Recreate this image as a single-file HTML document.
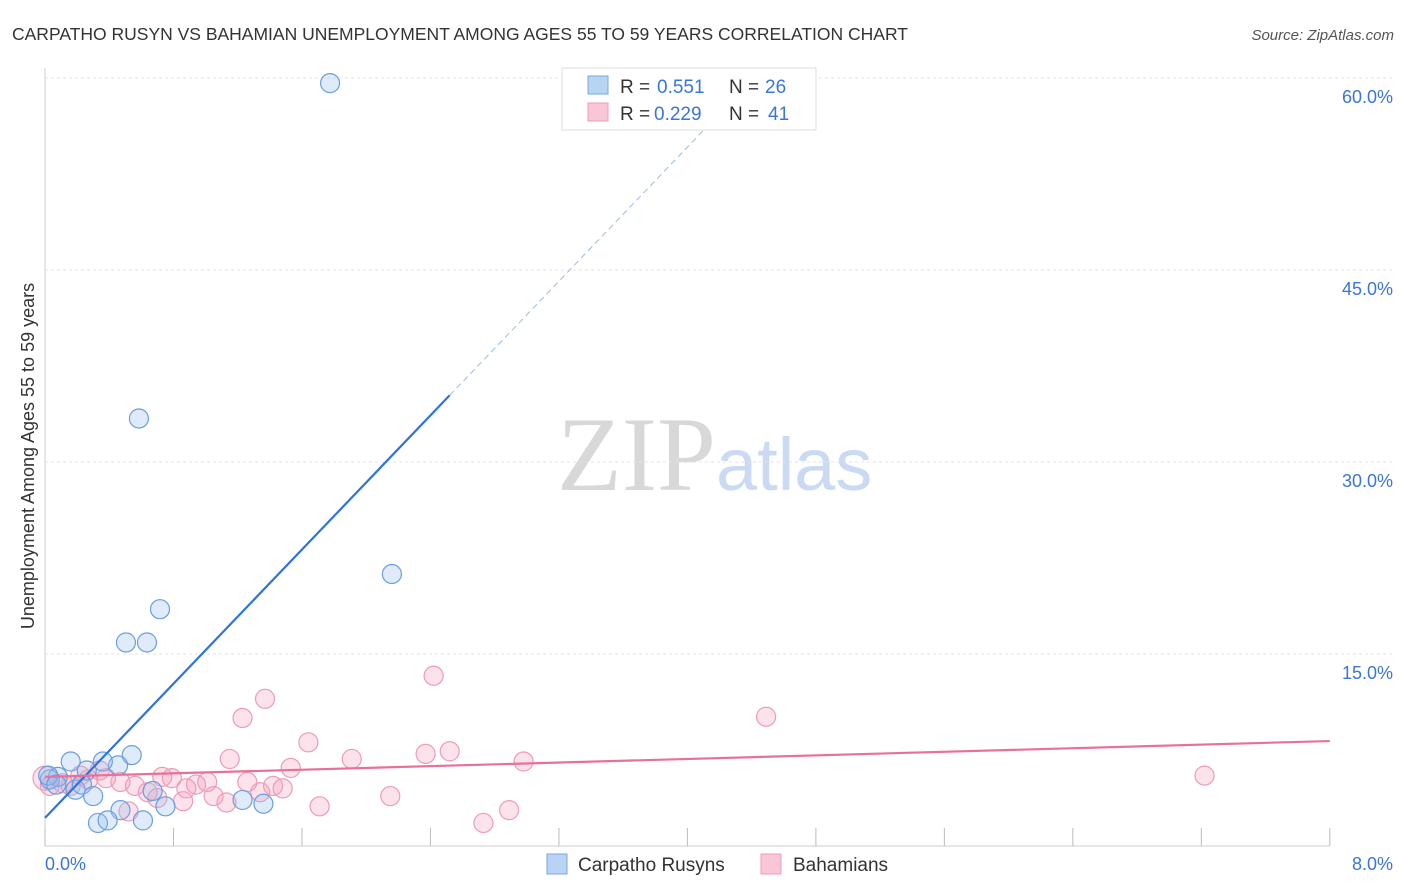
<!DOCTYPE html>
<html><head><meta charset="utf-8"><style>
body{margin:0;background:#fff;font-family:"Liberation Sans",sans-serif}
svg{display:block}
</style></head><body>
<svg id="c" width="1406" height="892">
<text x="12" y="40" font-size="17.5" fill="#333">CARPATHO RUSYN VS BAHAMIAN UNEMPLOYMENT AMONG AGES 55 TO 59 YEARS CORRELATION CHART</text>
<text x="1394" y="40" font-size="15" fill="#555" font-style="italic" text-anchor="end">Source: ZipAtlas.com</text>
<text x="716" y="490" font-size="106" fill="#d8d8d8" font-family="Liberation Serif,serif" text-anchor="end">ZIP</text>
<text x="716" y="490" font-size="74" fill="#c9daf2">atlas</text>
<text transform="translate(34,456) rotate(-90)" font-size="18" fill="#333" text-anchor="middle">Unemployment Among Ages 55 to 59 years</text>
<g id="grid"></g><g id="pts"></g><g id="lines"></g>
<g>
<rect x="562" y="68" width="254" height="62" fill="#fff" stroke="#ddd"/>
<rect x="588" y="76" width="20" height="18" fill="#b8d4f5" stroke="#7aa8e0"/>
<text x="620" y="93" font-size="19" fill="#333">R =</text>
<text x="657" y="93" font-size="19" fill="#3a76d6">0.551</text>
<text x="729" y="93" font-size="19" fill="#333">N =</text>
<text x="765" y="93" font-size="19" fill="#3a76d6">26</text>
<rect x="588" y="103" width="20" height="18" fill="#f9c6d6" stroke="#ee9bb6"/>
<text x="620" y="120" font-size="19" fill="#333">R =</text>
<text x="654" y="120" font-size="19" fill="#3a76d6">0.229</text>
<text x="729" y="120" font-size="19" fill="#333">N =</text>
<text x="768" y="120" font-size="19" fill="#3a76d6">41</text>
</g>
<g>
<rect x="547" y="854" width="20" height="20" fill="#b8d4f5" stroke="#7aa8e0"/>
<text x="578" y="871" font-size="19" fill="#333">Carpatho Rusyns</text>
<rect x="761" y="854" width="20" height="20" fill="#f9c6d6" stroke="#ee9bb6"/>
<text x="793" y="871" font-size="19" fill="#333">Bahamians</text>
</g>
</svg>
<script>
const yTicks=[15,30,45,60];
const yTickLabels=["15.0%","30.0%","45.0%","60.0%"];
const xTicks=[0,0.8,1.6,2.4,3.2,4.0,4.8,5.6,6.4,7.2,8.0];
const blueX=[1.775,0.585,2.16,0.716,0.504,0.635,0.54,0.455,0.36,0.16,0.26,0.08,0.03,0.19,0.23,0.30,0.47,0.33,0.39,0.61,0.75,0.67,1.23,1.36,0.02,0.07];
const blueY=[59.6,33.4,21.25,18.5,15.9,15.9,7.1,6.3,6.6,6.6,5.9,5.4,5.2,4.4,4.8,3.9,2.8,1.8,2.0,2.0,3.1,4.3,3.6,3.3,5.5,4.8];
const pinkX=[0,2.42,4.49,1.37,1.23,1.64,2.52,2.37,1.91,2.98,1.15,1.53,7.22,0.73,0.79,1.01,1.26,0.47,0.56,0.94,1.42,1.48,1.34,1.05,0.64,0.86,1.13,2.15,1.71,2.89,2.73,0.52,0.38,0.27,0.11,0.16,0.34,0.70,0.03,0.22,0.88];
const pinkY=[5.3,13.3,10.1,11.5,10.0,8.1,7.4,7.2,6.8,6.6,6.8,6.1,5.5,5.4,5.3,5.0,5.0,5.0,4.7,4.8,4.7,4.5,4.2,3.9,4.2,3.5,3.4,3.9,3.1,2.8,1.8,2.7,5.3,5.2,4.9,4.7,5.9,3.75,4.7,5.5,4.5];
const blueLine=[2.2,13.1];
const pinkLine=[5.4,0.35];
const X=v=>45+v*160.6, Y=v=>846-v*12.8;
const NS="http://www.w3.org/2000/svg";
function mk(t,a,p){const e=document.createElementNS(NS,t);for(const k in a)e.setAttribute(k,a[k]);p.appendChild(e);return e;}
const g=document.getElementById('grid'),pg=document.getElementById('pts'),lg=document.getElementById('lines');
let ax=mk('line',{x1:45,y1:68,x2:45,y2:846,stroke:'#ccc'},g);


let bx=mk('line',{x1:45,y1:846,x2:1330,y2:846,stroke:'#ccc'},g);


yTicks.forEach((t,i)=>{
 let l=mk('line',{x1:45,y1:Y(t),x2:1394,y2:Y(t),stroke:'#e3e3e3','stroke-dasharray':'3,3'},g);
 
 
 let tx=mk('text',{x:1393,y:Y(t)+25,'font-size':18,fill:'#3a76d6','text-anchor':'end'},g);tx.textContent=yTickLabels[i];
 
 
});
xTicks.forEach(t=>{
 let l=mk('line',{x1:X(t),y1:828,x2:X(t),y2:846,stroke:'#bbb'},g);
 
 
});
let x0=mk('text',{x:45,y:870,'font-size':18,fill:'#3a76d6'},g);x0.textContent="0.0%";


let x8=mk('text',{x:1393,y:870,'font-size':18,fill:'#3a76d6','text-anchor':'end'},g);x8.textContent="8.0%";


pinkX.forEach((v,i)=>{
 let c=mk('circle',{cx:X(v),cy:Y(pinkY[i]),r:i==0?12:9.5,fill:'rgba(245,160,190,0.3)',stroke:'#ee9bb6','stroke-width':1.2},pg);
 
 
});
blueX.forEach((v,i)=>{
 let c=mk('circle',{cx:X(v),cy:Y(blueY[i]),r:9.5,fill:'rgba(150,190,240,0.3)',stroke:'#6a9ee0','stroke-width':1.2},pg);
 
 
});
const bEnd=2.52,bDash=4.15;
let b1=mk('line',{x1:X(0),y1:Y(blueLine[0]),x2:X(bEnd),y2:Y(blueLine[0]+blueLine[1]*bEnd),stroke:'#2f74d8','stroke-width':2.2},lg);


let b2=mk('line',{x1:X(bEnd),y1:Y(blueLine[0]+blueLine[1]*bEnd),x2:X(bDash),y2:Y(blueLine[0]+blueLine[1]*bDash),stroke:'#9bbbe6','stroke-width':1,'stroke-dasharray':'6,4'},lg);


let p1=mk('line',{x1:X(0),y1:Y(pinkLine[0]),x2:X(8),y2:Y(pinkLine[0]+pinkLine[1]*8),stroke:'#e8709a','stroke-width':2.2},lg);


</script>
</body></html>
